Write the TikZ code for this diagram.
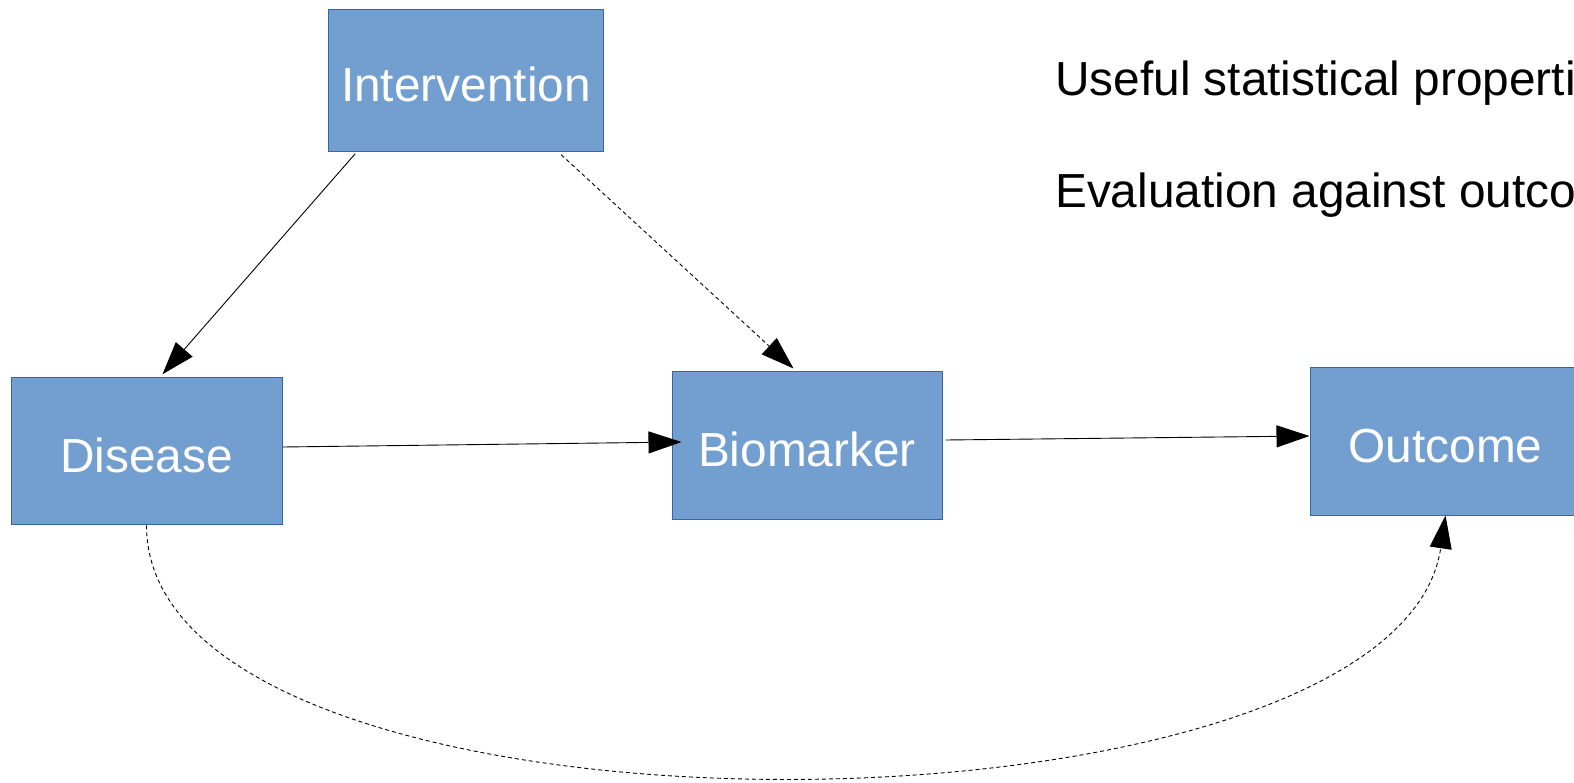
\documentclass[tikz,border=0pt]{standalone}
\usepackage{fontspec}
\setmainfont{Liberation Sans}
\usetikzlibrary{arrows.meta}
\definecolor{boxfill}{HTML}{729FCF}
\definecolor{boxline}{HTML}{3465A4}
\tikzset{
  bigfont/.style={font=\fontsize{47.8}{56}\selectfont},
  blockbox/.style={draw=boxline, line width=1pt, fill=boxfill, text=white, bigfont,
    inner sep=0pt, text height=42pt, text depth=0pt},
  conn/.style={line width=0.9pt, -{Triangle[length=33pt,width=22pt]}},
  dashconn/.style={conn, dash pattern=on 4pt off 3pt},
  plaintext/.style={bigfont, inner sep=0pt, anchor=base west}
}
\begin{document}
\begin{tikzpicture}[x=1pt,y=-1pt]
\useasboundingbox (0,0) rectangle (1574,782);
\clip (0,0) rectangle (1574,782);
\fill[white] (0,0) rectangle (1574,782);

\node[blockbox, minimum width=274.6pt, minimum height=141.5pt] (int) at (466,80.5) {Intervention};
\node[blockbox, minimum width=271pt, minimum height=147.5pt] (dis) at (146.5,451) {Disease};
\node[blockbox, minimum width=270pt, minimum height=148pt] (bio) at (807,445) {Biomarker};
\node[blockbox, minimum width=271pt, minimum height=148pt] (out) at (1445.5,441) {Outcome};

\node[plaintext] (t1) at (1055,95) {Useful statistical properti};
\node[plaintext] (t2) at (1055,207) {Evaluation against outco};

\draw[conn] ([xshift=27pt,yshift=-2pt]int.south west) -- ([xshift=152pt,yshift=2.5pt]dis.north west);
\draw[dashconn] ([xshift=233pt,yshift=-3pt]int.south west) -- ([xshift=122pt,yshift=2pt]bio.north west);
\draw[conn] ([yshift=4pt]dis.east) -- ([xshift=10pt,yshift=3pt]bio.west);
\draw[conn] ([xshift=3pt,yshift=5pt]bio.east) -- ([yshift=5pt]out.west);
\draw[dashconn] (dis.south) .. controls +(0,340) and +(-50,340) .. (out.south);
\end{tikzpicture}
\end{document}
